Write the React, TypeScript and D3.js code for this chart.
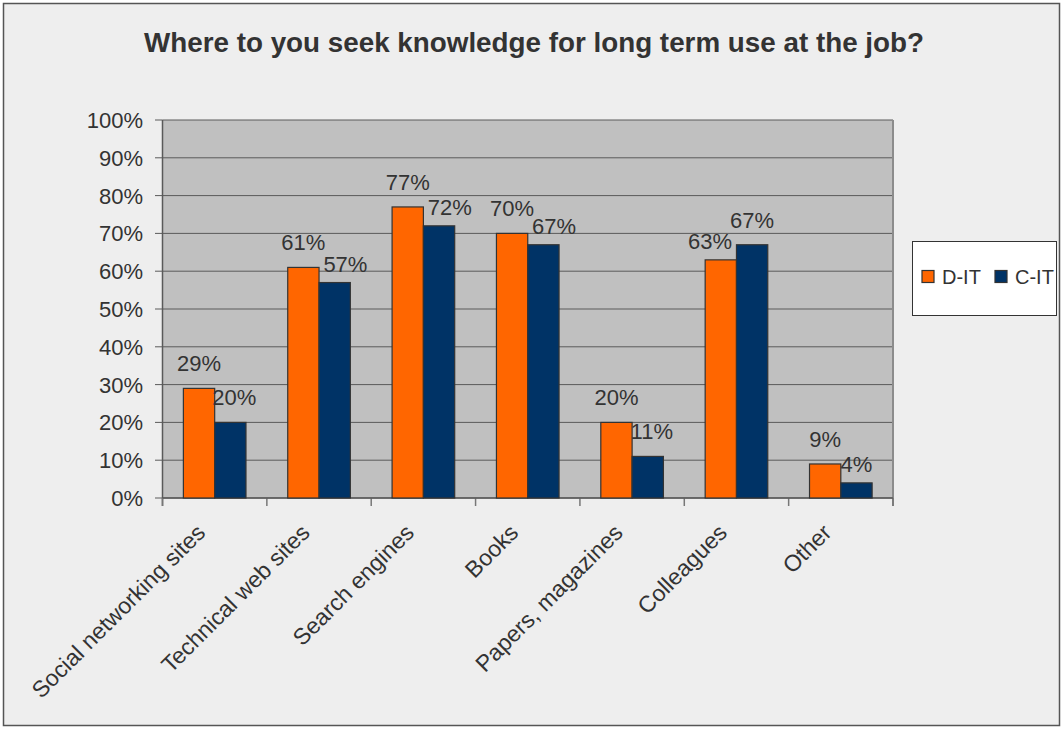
import React from "react";
import * as d3 from "d3";

const title = "Where to you seek knowledge for long term use at the job?";
const categories = [
  "Social networking sites",
  "Technical web sites",
  "Search engines",
  "Books",
  "Papers, magazines",
  "Colleagues",
  "Other",
];
const seriesNames = ["D-IT", "C-IT"];
const dIT = [0.29, 0.61, 0.77, 0.7, 0.2, 0.63, 0.09];
const cIT = [0.2, 0.57, 0.72, 0.67, 0.11, 0.67, 0.04];
const yTicks = [0, 0.1, 0.2, 0.3, 0.4, 0.5, 0.6, 0.7, 0.8, 0.9, 1.0];
const colors = ["#ff6600", "#003366"];

const W = 1063;
const H = 729;
const plot = { left: 162.5, right: 893, top: 120, bottom: 498 };
const FONT = "Arial, 'Liberation Sans', sans-serif";
const TXT = "#333333";

export default function App() {
  const y = d3.scaleLinear().domain([0, 1]).range([plot.bottom, plot.top]);
  const x0 = d3.scaleBand<string>().domain(categories).range([plot.left, plot.right]).padding(0);
  const x1 = d3
    .scaleBand<string>()
    .domain(seriesNames)
    .range([0, x0.bandwidth()])
    .paddingInner(0)
    .paddingOuter(0.667);
  const fmt = d3.format(".0%");
  const series = [dIT, cIT];
  const labelFs = 22;
  const labelW = (s: string) =>
    s.split("").reduce((a, c) => a + (c === "%" ? 0.889 : 0.556), 0) * labelFs;

  const boundaries = d3.range(categories.length + 1).map((i) => plot.left + i * x0.step());

  // data label placement with a simple overlap avoidance
  const labels: { x: number; y: number; text: string }[] = [];
  categories.forEach((c, i) => {
    const pos = series.map((s, k) => {
      const xc = (x0(c) as number) + (x1(seriesNames[k]) as number) + x1.bandwidth() / 2;
      const top = y(s[i]);
      return { x: xc, y: top - 17, text: fmt(s[i]), top };
    });
    const lowIdx = series[0][i] < series[1][i] ? 0 : 1;
    const hiIdx = 1 - lowIdx;
    const dir = lowIdx === 1 ? 1 : -1;
    const overlapX = (labelW(pos[0].text) + labelW(pos[1].text)) / 2 - x1.bandwidth();
    if (Math.abs(pos[lowIdx].top - pos[hiIdx].top) < 22) {
      pos[lowIdx].x += dir * Math.max(0, overlapX - 2);
      pos[lowIdx].y += 6;
    } else {
      pos[lowIdx].x += dir * 4;
    }
    pos.forEach((p) => labels.push(p));
  });

  return (
    <svg
      width={W}
      height={H}
      style={{ position: "absolute", left: 0, top: 0, display: "block" }}
      fontFamily={FONT}
    >
      <rect x={0} y={0} width={W} height={H} fill="#ffffff" />
      <rect x={3.5} y={3.5} width={W - 7} height={H - 7} fill="#eeeeee" stroke="#555555" strokeWidth={1.5} />
      <text x={534} y={52} textAnchor="middle" fontSize={27.8} fontWeight="bold" fill={TXT}>
        {title}
      </text>

      {/* plot area */}
      <rect
        x={plot.left}
        y={plot.top}
        width={plot.right - plot.left}
        height={plot.bottom - plot.top}
        fill="#c0c0c0"
      />
      {yTicks.map((t) => (
        <g key={t}>
          <line x1={plot.left} x2={plot.right} y1={y(t)} y2={y(t)} stroke="#5a5a5a" strokeWidth={1} />
          <line x1={plot.left - 7.5} x2={plot.left} y1={y(t)} y2={y(t)} stroke="#5a5a5a" strokeWidth={1} />
          <text x={143} y={y(t)} dy="0.36em" textAnchor="end" fontSize={22} fill={TXT}>
            {fmt(t)}
          </text>
        </g>
      ))}
      <line x1={plot.right} x2={plot.right} y1={plot.top} y2={plot.bottom + 8} stroke="#8c8c8c" strokeWidth={2} />
      <line x1={plot.left} x2={plot.left} y1={plot.top} y2={plot.bottom + 8} stroke="#5a5a5a" strokeWidth={1.5} />
      {boundaries.map((b, i) => (
        <line key={i} x1={b} x2={b} y1={plot.bottom} y2={plot.bottom + 8} stroke="#777777" strokeWidth={1.5} />
      ))}
      <line x1={plot.left} x2={plot.right} y1={plot.bottom} y2={plot.bottom} stroke="#5a5a5a" strokeWidth={1.5} />

      {/* bars */}
      {categories.map((c, i) =>
        series.map((s, k) => (
          <rect
            key={c + k}
            x={(x0(c) as number) + (x1(seriesNames[k]) as number)}
            y={y(s[i])}
            width={x1.bandwidth()}
            height={y(0) - y(s[i])}
            fill={colors[k]}
            stroke="#333333"
            strokeWidth={1.2}
          />
        ))
      )}

      {labels.map((l, i) => (
        <text key={i} x={l.x} y={l.y} textAnchor="middle" fontSize={labelFs} fill={TXT}>
          {l.text}
        </text>
      ))}

      {/* category labels */}
      {categories.map((c) => {
        const cx = (x0(c) as number) + x0.bandwidth() / 2 - 8;
        const cy = 534;
        return (
          <text
            key={c}
            transform={`translate(${cx},${cy}) rotate(-45)`}
            textAnchor="end"
            fontSize={23}
            fill={TXT}
          >
            {c}
          </text>
        );
      })}

      {/* legend */}
      <rect x={912.5} y={241.5} width={144} height={74} fill="#ffffff" stroke="#333333" strokeWidth={1} />
      {seriesNames.map((n, k) => {
        const lx = k === 0 ? 922 : 995;
        return (
          <g key={n}>
            <rect x={lx} y={270.5} width={12} height={12} fill={colors[k]} stroke="#333333" strokeWidth={1.2} />
            <text x={lx + 20} y={284} fontSize={20} fill={TXT}>
              {n}
            </text>
          </g>
        );
      })}
    </svg>
  );
}
